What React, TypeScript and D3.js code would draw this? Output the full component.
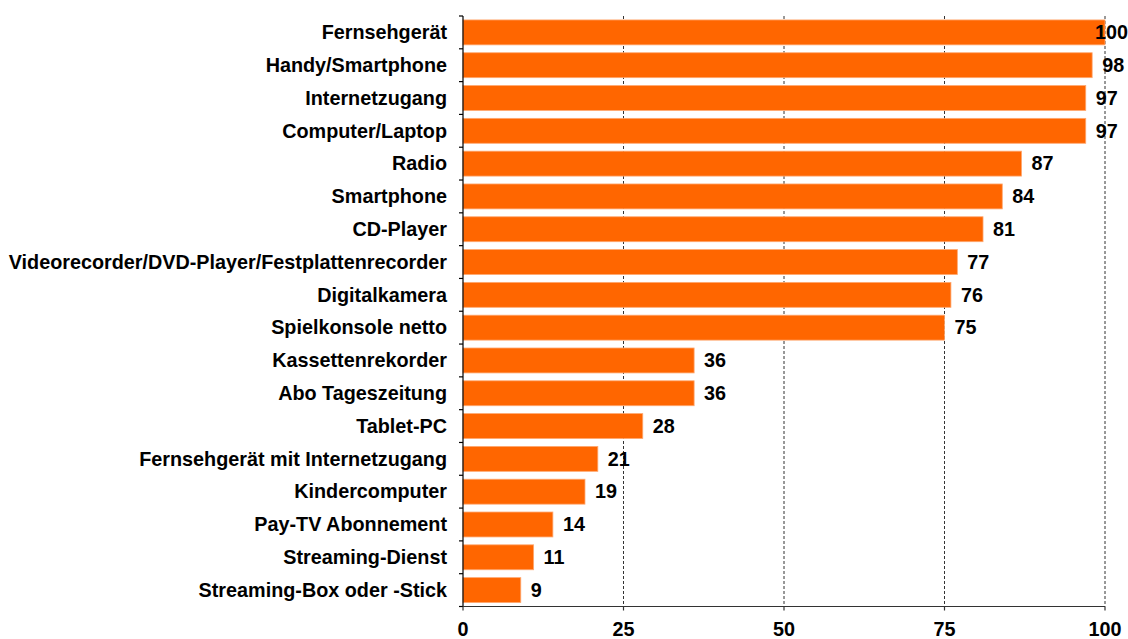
import React from "react";
import * as d3 from "d3";

const categories = [
  "Fernsehgerät",
  "Handy/Smartphone",
  "Internetzugang",
  "Computer/Laptop",
  "Radio",
  "Smartphone",
  "CD-Player",
  "Videorecorder/DVD-Player/Festplattenrecorder",
  "Digitalkamera",
  "Spielkonsole netto",
  "Kassettenrekorder",
  "Abo Tageszeitung",
  "Tablet-PC",
  "Fernsehgerät mit Internetzugang",
  "Kindercomputer",
  "Pay-TV Abonnement",
  "Streaming-Dienst",
  "Streaming-Box oder -Stick",
];
const values = [100, 98, 97, 97, 87, 84, 81, 77, 76, 75, 36, 36, 28, 21, 19, 14, 11, 9];
const xTicks = [0, 25, 50, 75, 100];

const W = 1128;
const H = 639;
const FONT = "'Liberation Sans', Arial, sans-serif";
const FS = 19.8;

export default function App() {
  const x = d3.scaleLinear().domain([0, 100]).range([463, 1105]);
  const y = d3
    .scaleBand<string>()
    .domain(categories)
    .range([16, 606.5])
    .paddingInner(0.24)
    .paddingOuter(0.12);
  const rows = d3.scaleBand<string>().domain(categories).range([16, 606.5]).padding(0);
  const y0 = 16;
  const y1 = 606.5;
  const x0 = x(0);

  return (
    <svg
      width={W}
      height={H}
      style={{ position: "absolute", left: 0, top: 0, background: "#fff" }}
      fontFamily={FONT}
    >
      {/* gridlines */}
      {xTicks
        .filter((t) => t > 0)
        .map((t) => (
          <line
            key={"g" + t}
            x1={x(t)}
            x2={x(t)}
            y1={y0}
            y2={y1}
            stroke="#333"
            strokeWidth={1}
            strokeDasharray="3,2"
          />
        ))}
      {/* bars */}
      {categories.map((c, i) => (
        <rect
          key={"b" + c}
          x={x0}
          y={y(c)!}
          width={x(values[i]) - x0}
          height={y.bandwidth()}
          fill="#FF6600"
          stroke="#FFA870"
          strokeWidth={0.8}
        />
      ))}
      {/* y axis */}
      <line x1={x0} x2={x0} y1={y0} y2={y1} stroke="#000" strokeWidth={1.2} />
      {categories.map((c) => (
        <line key={"yt" + c} x1={x0 - 4} x2={x0} y1={rows(c)!} y2={rows(c)!} stroke="#000" strokeWidth={1.2} />
      ))}
      <line x1={x0 - 4} x2={x0} y1={y1} y2={y1} stroke="#000" strokeWidth={1.2} />
      {/* x axis */}
      <line x1={x0} x2={x(100)} y1={y1} y2={y1} stroke="#333" strokeWidth={1.2} />
      {xTicks.map((t) => (
        <g key={"xt" + t}>
          <line x1={x(t)} x2={x(t)} y1={y1} y2={y1 + 4} stroke="#333" strokeWidth={1.2} />
          <text
            x={x(t)}
            y={636}
            textAnchor="middle"
            fontSize={FS}
            fontWeight="bold"
            fill="#000"
          >
            {t}
          </text>
        </g>
      ))}
      {/* category labels */}
      {categories.map((c) => (
        <text
          key={"l" + c}
          x={447}
          y={y(c)! + y.bandwidth() / 2 + 6.8}
          textAnchor="end"
          fontSize={FS}
          fontWeight="bold"
          fill="#000"
        >
          {c}
        </text>
      ))}
      {/* value labels */}
      {categories.map((c, i) => {
        const v = values[i];
        const lx = v >= 100 ? x(v) - 10 : x(v) + 10;
        return (
          <text
            key={"v" + c}
            x={lx}
            y={y(c)! + y.bandwidth() / 2 + 6.8}
            textAnchor="start"
            fontSize={FS}
            fontWeight="bold"
            fill="#000"
          >
            {v}
          </text>
        );
      })}
    </svg>
  );
}
